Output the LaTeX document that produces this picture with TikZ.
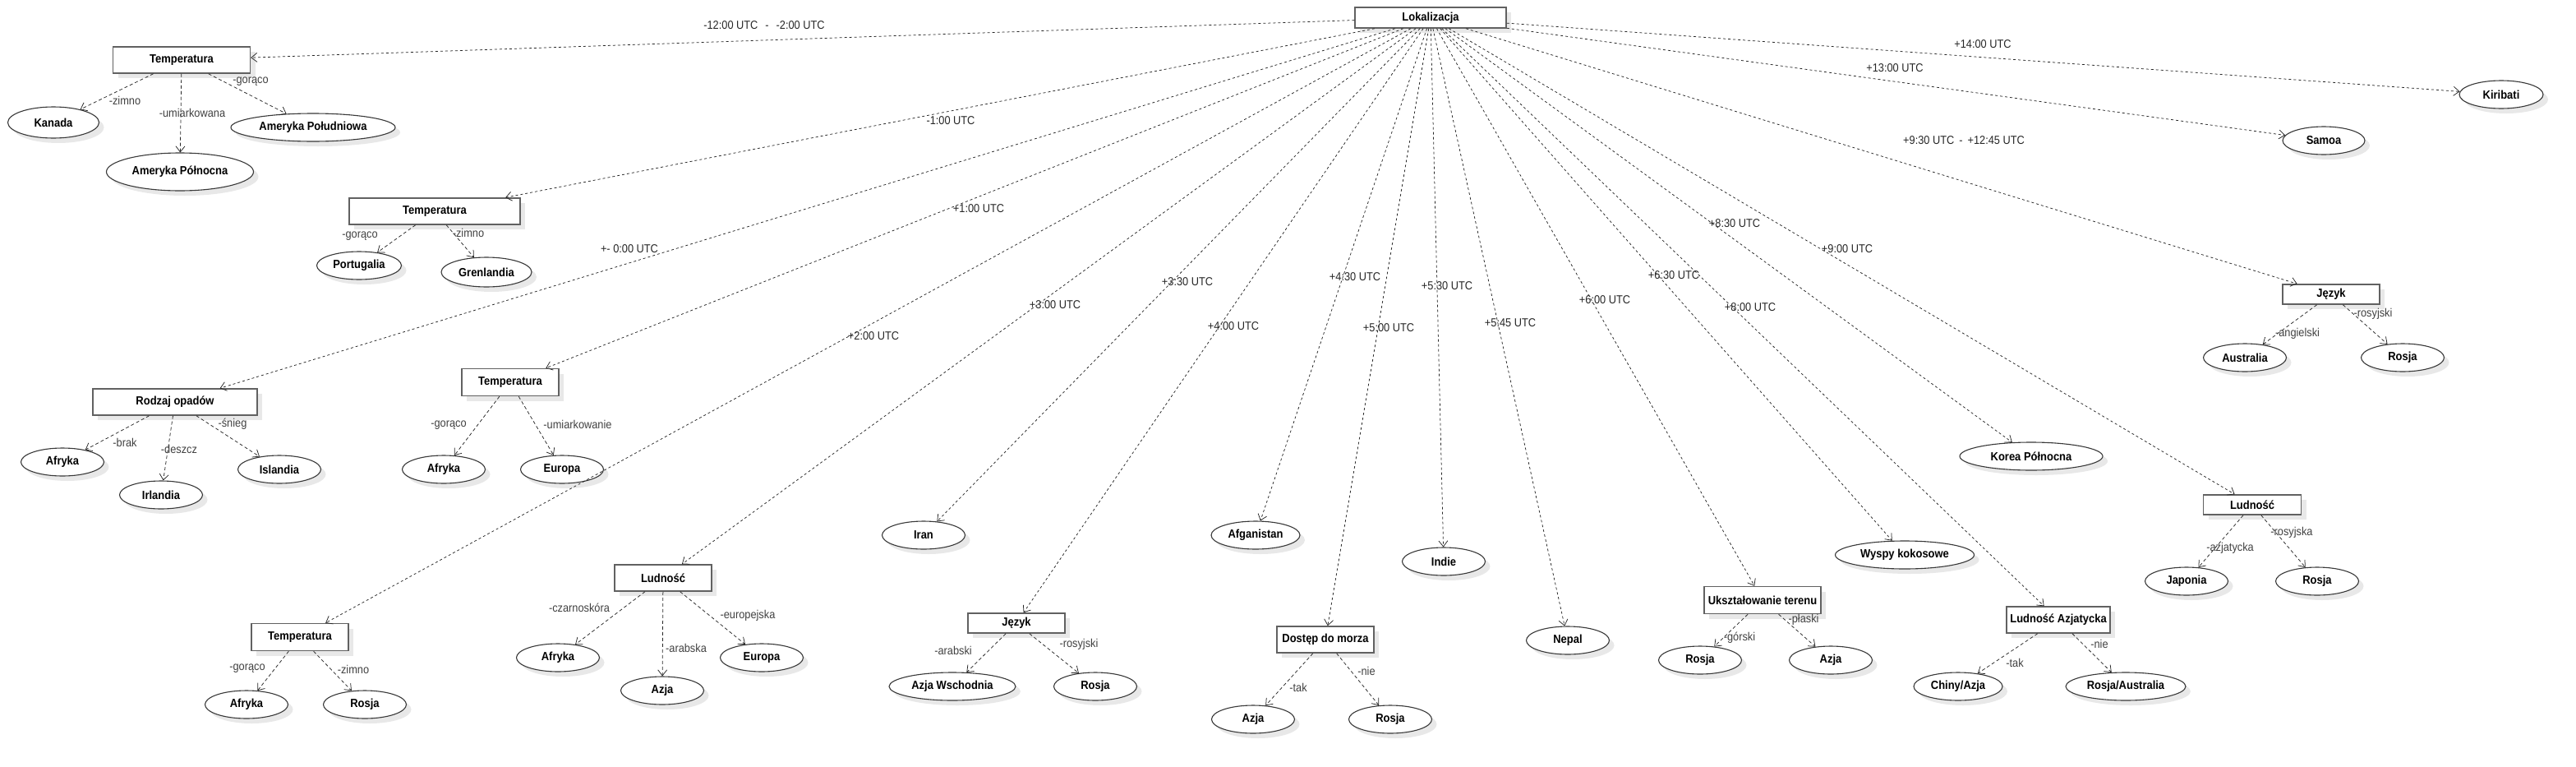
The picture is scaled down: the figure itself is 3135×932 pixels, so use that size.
\documentclass[tikz,border=0pt]{standalone}
\usepackage{fontspec}
\setmainfont{Liberation Sans}[FakeStretch=0.9]
\usetikzlibrary{arrows.meta,shapes.geometric,shadows}
\newcommand\ndfont{\fontsize{14.4}{16}\selectfont\bfseries}
\newcommand\lbfont{\fontsize{14.2}{16}\selectfont}
\tikzset{
  shd/.style={drop shadow={shadow xshift=6pt,shadow yshift=-6pt,fill=black!9,opacity=1}},
  box/.style={rectangle,draw=black!62,line width=1.5pt,fill=white,inner sep=0pt,font=\ndfont,shd},
  ell/.style={ellipse,draw=black!78,line width=1.1pt,fill=white,inner sep=0pt,font=\ndfont,minimum height=34,minimum width=101,shd},
  dep/.style={draw=black!85,line width=0.75pt,dash pattern=on 3pt off 3pt,-{Straight Barb[length=7pt,width=11pt]}},
  sub/.style={dep,dash pattern=on 4pt off 3pt},
  lbl/.style={font=\lbfont,text=black!85,inner sep=0pt},
  slbl/.style={font=\lbfont,text=black!75,inner sep=0pt}
}
\begin{document}
\begin{tikzpicture}[x=1pt,y=-1pt]
\useasboundingbox (0,0) rectangle (3135,932);
% nodes
\node[box,minimum width=184,minimum height=25] (lok) at (1741,21.5) {Lokalizacja};
\node[box,minimum width=167,minimum height=32] (t1) at (221,73) {Temperatura};
\node[ell,minimum width=111,minimum height=38] (kanada) at (65,149) {Kanada};
\node[ell,minimum width=179,minimum height=46] (amp) at (219,209) {Ameryka Północna};
\node[ell,minimum width=200] (ampd) at (381,155) {Ameryka Południowa};
\node[box,minimum width=208,minimum height=32] (t2) at (529,257) {Temperatura};
\node[ell,minimum width=103] (port) at (437,323) {Portugalia};
\node[ell,minimum width=110,minimum height=36] (gren) at (592,331) {Grenlandia};
\node[box,minimum width=200,minimum height=32] (rod) at (213,489) {Rodzaj opadów};
\node[ell] (afr1) at (76,562) {Afryka};
\node[ell] (irl) at (196,602) {Irlandia};
\node[ell] (isl) at (340,571) {Islandia};
\node[box,minimum width=118,minimum height=33] (t3) at (621,465) {Temperatura};
\node[ell] (afr2) at (540,571) {Afryka};
\node[ell] (eur1) at (684,571) {Europa};
\node[box,minimum width=118,minimum height=33] (t4) at (365,775) {Temperatura};
\node[ell] (afr3) at (300,857) {Afryka};
\node[ell] (ros1) at (444,857) {Rosja};
\node[box,minimum width=118,minimum height=32] (lud1) at (807,703) {Ludność};
\node[ell] (afr4) at (679,800) {Afryka};
\node[ell] (azja1) at (806,840) {Azja};
\node[ell] (eur2) at (927,800) {Europa};
\node[ell] (iran) at (1124,651) {Iran};
\node[box,minimum width=118,minimum height=24] (jez1) at (1237,758) {Język};
\node[ell,minimum width=154] (azw) at (1159,835) {Azja Wschodnia};
\node[ell] (ros2) at (1333,835) {Rosja};
\node[ell,minimum width=108] (afg) at (1528,651) {Afganistan};
\node[ell] (indie) at (1757,683) {Indie};
\node[box,minimum width=118,minimum height=32] (dost) at (1613,778) {Dostęp do morza};
\node[ell] (azja2) at (1525,875) {Azja};
\node[ell] (ros3) at (1692,875) {Rosja};
\node[ell] (nepal) at (1908,779) {Nepal};
\node[box,minimum width=142,minimum height=33] (uks) at (2145,730) {Ukształowanie terenu};
\node[ell] (ros4) at (2069,803) {Rosja};
\node[ell] (azja3) at (2228,803) {Azja};
\node[ell,minimum width=169] (wysp) at (2318,675) {Wyspy kokosowe};
\node[ell,minimum width=174] (korea) at (2472,555) {Korea Północna};
\node[box,minimum width=126,minimum height=32] (ludaz) at (2505,754) {Ludność Azjatycka};
\node[ell,minimum width=108] (chiny) at (2383,835) {Chiny/Azja};
\node[ell,minimum width=146] (rosau) at (2587,835) {Rosja/Australia};
\node[box,minimum width=119,minimum height=24] (lud2) at (2741,614) {Ludność};
\node[ell] (jap) at (2661,707) {Japonia};
\node[ell] (ros5) at (2820,707) {Rosja};
\node[box,minimum width=118,minimum height=24] (jez2) at (2837,358) {Język};
\node[ell] (austr) at (2732,435) {Australia};
\node[ell] (ros6) at (2924,435) {Rosja};
\node[ell,minimum width=100] (samoa) at (2828,171) {Samoa};
\node[ell,minimum width=102] (kiri) at (3044,115) {Kiribati};
% main connectors
\draw[dep] (lok) -- (t1) node[lbl,at={(930,31)}] {-12:00 UTC\hspace{9pt}-\hspace{9pt}-2:00 UTC};
\draw[dep] (lok) -- (t2) node[lbl,at={(1157,147)}] {-1:00 UTC};
\draw[dep] (lok) -- (rod) node[lbl,at={(766,303)}] {+- 0:00 UTC};
\draw[dep] (lok) -- (t3) node[lbl,at={(1191,254)}] {+1:00 UTC};
\draw[dep] (lok) -- (t4) node[lbl,at={(1063,409)}] {+2:00 UTC};
\draw[dep] (lok) -- (lud1) node[lbl,at={(1284,371)}] {+3:00 UTC};
\draw[dep] (lok) -- (iran) node[lbl,at={(1445,343)}] {+3:30 UTC};
\draw[dep] (lok) -- (jez1) node[lbl,at={(1501,397)}] {+4:00 UTC};
\draw[dep] (lok) -- (afg) node[lbl,at={(1649,337)}] {+4:30 UTC};
\draw[dep] (lok) -- (dost) node[lbl,at={(1690,399)}] {+5:00 UTC};
\draw[dep] (lok) -- (indie) node[lbl,at={(1761,348)}] {+5:30 UTC};
\draw[dep] (lok) -- (nepal) node[lbl,at={(1838,393)}] {+5:45 UTC};
\draw[dep] (lok) -- (uks) node[lbl,at={(1953,365)}] {+6:00 UTC};
\draw[dep] (lok) -- (wysp) node[lbl,at={(2037,335)}] {+6:30 UTC};
\draw[dep] (lok) -- (ludaz) node[lbl,at={(2130,374)}] {+8:00 UTC};
\draw[dep] (lok) -- (korea) node[lbl,at={(2111,272)}] {+8:30 UTC};
\draw[dep] (lok) -- (lud2) node[lbl,at={(2248,303)}] {+9:00 UTC};
\draw[dep] (lok) -- (jez2) node[lbl,at={(2390,171)}] {+9:30 UTC\hspace{6pt}-\hspace{6pt}+12:45 UTC};
\draw[dep] (lok) -- (samoa) node[lbl,at={(2306,83)}] {+13:00 UTC};
\draw[dep] (lok) -- (kiri) node[lbl,at={(2413,54)}] {+14:00 UTC};
% sub connectors
\draw[sub] (t1) -- (kanada) node[slbl,at={(152,122)}] {-zimno};
\draw[sub] (t1) -- (amp) node[slbl,at={(234,137)}] {-umiarkowana};
\draw[sub] (t1) -- (ampd) node[slbl,at={(305,99)}] {-gorąco};
\draw[sub] (t2) -- (port) node[slbl,at={(438,287)}] {-gorąco};
\draw[sub] (t2) -- (gren) node[slbl,at={(570,283)}] {-zimno};
\draw[sub] (rod) -- (afr1) node[slbl,at={(152,538)}] {-brak};
\draw[sub] (rod) -- (irl) node[slbl,at={(218,546)}] {-deszcz};
\draw[sub] (rod) -- (isl) node[slbl,at={(283,516)}] {-śnieg};
\draw[sub] (t3) -- (afr2) node[slbl,at={(546,517)}] {-gorąco};
\draw[sub] (t3) -- (eur1) node[slbl,at={(703,516)}] {-umiarkowanie};
\draw[sub] (t4) -- (afr3) node[slbl,at={(301,813)}] {-gorąco};
\draw[sub] (t4) -- (ros1) node[slbl,at={(430,814)}] {-zimno};
\draw[sub] (lud1) -- (afr4) node[slbl,at={(705,739)}] {-czarnoskóra};
\draw[sub] (lud1) -- (azja1) node[slbl,at={(835,788)}] {-arabska};
\draw[sub] (lud1) -- (eur2) node[slbl,at={(910,749)}] {-europejska};
\draw[sub] (jez1) -- (azw) node[slbl,at={(1160,791)}] {-arabski};
\draw[sub] (jez1) -- (ros2) node[slbl,at={(1313,784)}] {-rosyjski};
\draw[sub] (dost) -- (azja2) node[slbl,at={(1580,836)}] {-tak};
\draw[sub] (dost) -- (ros3) node[slbl,at={(1663,816)}] {-nie};
\draw[sub] (uks) -- (ros4) node[slbl,at={(2117,776)}] {-górski};
\draw[sub] (uks) -- (azja3) node[slbl,at={(2195,754)}] {-płaski};
\draw[sub] (ludaz) -- (chiny) node[slbl,at={(2452,806)}] {-tak};
\draw[sub] (ludaz) -- (rosau) node[slbl,at={(2555,783)}] {-nie};
\draw[sub] (lud2) -- (jap) node[slbl,at={(2714,667)}] {-azjatycka};
\draw[sub] (lud2) -- (ros5) node[slbl,at={(2789,648)}] {-rosyjska};
\draw[sub] (jez2) -- (austr) node[slbl,at={(2796,406)}] {-angielski};
\draw[sub] (jez2) -- (ros6) node[slbl,at={(2888,382)}] {-rosyjski};
\end{tikzpicture}
\end{document}
